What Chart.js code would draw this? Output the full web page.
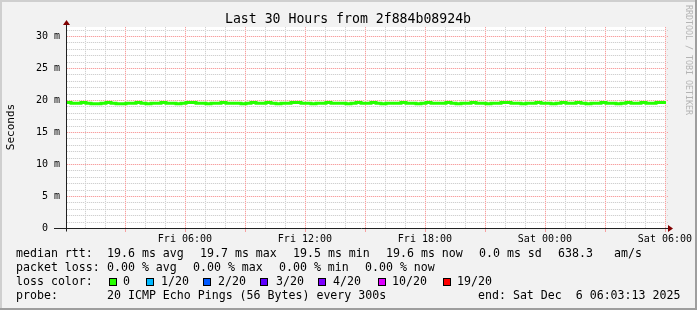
<!DOCTYPE html>
<html><head><meta charset="utf-8">
<script src="https://cdn.jsdelivr.net/npm/chart.js@4.4.1/dist/chart.umd.min.js"></script>
<style>html,body{margin:0;padding:0;background:#f2f2f2;}canvas{display:block;}</style>
</head><body>
<canvas id="c" width="697" height="310"></canvas>
<script>
// ---- data ----
const titleText = "Last 30 Hours from 2f884b08924b";
const yAxisTitle = "Seconds";
const watermark = "RRDTOOL / TOBI OETIKER";
const startHour = 3/60 + 13/3600;   // Fri 00:03:13, hours since Fri 00:00
const stepHours = 0.25;              // one median every 15 minutes
const rttMedianMs = [
19.6,19.5,19.5,19.6,19.5,19.4,19.4,19.5,19.6,19.5,
19.4,19.4,19.5,19.5,19.6,19.5,19.4,19.5,19.5,19.6,
19.5,19.5,19.4,19.5,19.6,19.6,19.5,19.5,19.4,19.5,
19.5,19.6,19.5,19.5,19.5,19.4,19.5,19.6,19.5,19.5,
19.6,19.5,19.4,19.5,19.5,19.6,19.6,19.5,19.5,19.4,
19.5,19.5,19.6,19.5,19.5,19.5,19.4,19.5,19.6,19.5,
19.5,19.6,19.5,19.4,19.5,19.5,19.5,19.6,19.5,19.5,
19.4,19.5,19.6,19.5,19.5,19.5,19.6,19.5,19.4,19.5,
19.5,19.6,19.5,19.5,19.4,19.5,19.5,19.6,19.6,19.5,
19.5,19.4,19.5,19.5,19.6,19.5,19.5,19.4,19.5,19.6,
19.5,19.5,19.6,19.5,19.4,19.5,19.5,19.6,19.5,19.5,
19.4,19.5,19.6,19.5,19.5,19.6,19.5,19.5,19.6,19.6,19.6
];
const xTickHours = [1,2,3,4,5,6,7,8,9,10,11,12,13,14,15,16,17,18,19,20,21,22,23,24,25,26,27,28,29,30];
const xLabelHours = [6,12,18,24,30];
const xLabels = ["Fri 06:00","Fri 12:00","Fri 18:00","Sat 00:00","Sat 06:00"];
const yMajorValues = [0,5,10,15,20,25,30];
const yLabels = ["0  ","5 m","10 m","15 m","20 m","25 m","30 m"];
const yMax = 31.4;
const rttStats = ["median rtt:","19.6 ms avg","19.7 ms max","19.5 ms min","19.6 ms now","0.0 ms sd","638.3","am/s"];
const lossStats = ["packet loss:","0.00 % avg","0.00 % max","0.00 % min","0.00 % now"];
const lossLabels = ["0","1/20","2/20","3/20","4/20","10/20","19/20"];
const lossColors = ["#26ff00","#00b8ff","#0059ff","#5e00ff","#7e00ff","#dd00ff","#ff0000"];
const probeLine = ["probe:","20 ICMP Echo Pings (56 Bytes) every 300s","end: Sat Dec  6 06:03:13 2025"];

// ---- layout / style ----
const MONO = '"DejaVu Sans Mono", monospace';
const GRID_ON = '#d0d0d0', GRID_OFF = '#f4f4f4';
const MGRID_ON = '#f7a0a0', MGRID_OFF = '#fde4e4';
const points = rttMedianMs.map((v,i)=>({x:startHour+i*stepHours, y:v}));
const isMajorYVal = (v)=> yMajorValues.indexOf(Math.round(v)) >= 0;
const isMajorXVal = (v)=> Math.round(v) % 3 === 0;

const deco = {
  id:'deco',
  beforeDraw(chart){
    const c = chart.ctx, W = chart.width, H = chart.height;
    c.save();
    c.fillStyle = '#f2f2f2'; c.fillRect(0,0,W,H);
    c.fillStyle = '#ffffff';
    const a = chart.chartArea;
    c.fillRect(a.left, a.top, a.right-a.left, a.bottom-a.top);
    c.fillStyle = '#cfcfcf'; c.fillRect(0,0,W,2); c.fillRect(0,0,2,H);
    c.fillStyle = '#9e9e9e'; c.fillRect(0,H-2,W,2); c.fillRect(W-2,0,2,H);
    c.restore();
  },
  beforeDatasetsDraw(chart){
    const c = chart.ctx, a = chart.chartArea, xs = chart.scales.x, ys = chart.scales.y;
    const top = Math.round(a.top), bot = Math.round(a.bottom), left = Math.round(a.left), right = Math.round(a.right);
    c.save();
    const vline = (px, on, off, tick) => {
      c.fillStyle = off; c.fillRect(px, top, 1, bot-top);
      c.fillStyle = on;
      for (let y = top; y < bot; y += 2) c.fillRect(px, y, 1, 1);
      if (tick) c.fillRect(px, bot+1, 1, 3);
    };
    const hline = (py, on, off) => {
      c.fillStyle = off; c.fillRect(left+1, py, right+2-left-1, 1);
      c.fillStyle = on;
      for (let x = left + 1; x < right + 2; x += 2) c.fillRect(x, py, 1, 1);
    };
    ys.ticks.forEach(t => { if (!isMajorYVal(t.value)) hline(Math.round(ys.getPixelForValue(t.value)), GRID_ON, GRID_OFF); });
    xs.ticks.forEach(t => { if (!isMajorXVal(t.value)) vline(Math.round(xs.getPixelForValue(t.value)), GRID_ON, GRID_OFF, false); });
    ys.ticks.forEach(t => { if (isMajorYVal(t.value) && Math.round(t.value) > 0) hline(Math.round(ys.getPixelForValue(t.value)), MGRID_ON, MGRID_OFF); });
    xs.ticks.forEach(t => { if (isMajorXVal(t.value)) vline(Math.round(xs.getPixelForValue(t.value)), MGRID_ON, MGRID_OFF, true); });
    c.restore();
  },
  afterDraw(chart){
    const c = chart.ctx, a = chart.chartArea;
    const x0 = Math.round(a.left)+0.5, y0 = Math.round(chart.scales.y.getPixelForValue(0))+0.5;
    c.save();
    c.strokeStyle = '#212121'; c.lineWidth = 1; c.setLineDash([]);
    c.beginPath(); c.moveTo(54, y0); c.lineTo(a.right+3, y0); c.stroke();
    c.beginPath(); c.moveTo(x0, y0+3); c.lineTo(x0, a.top-4); c.stroke();
    c.fillStyle = '#800000';
    c.beginPath(); c.moveTo(a.right+2, y0-3.5); c.lineTo(a.right+7, y0); c.lineTo(a.right+2, y0+3.5); c.closePath(); c.fill();
    c.beginPath(); c.moveTo(x0-3.5, a.top-2); c.lineTo(x0, a.top-7); c.lineTo(x0+3.5, a.top-2); c.closePath(); c.fill();
    c.fillStyle = '#000'; c.textBaseline = 'middle';
    c.font = '13.2px ' + MONO; c.textAlign = 'center';
    c.fillText(titleText, 348, 19.5);
    c.save(); c.translate(11, 127); c.rotate(-Math.PI/2);
    c.font = '11px ' + MONO; c.fillText(yAxisTitle, 0, 0); c.restore();
    c.save(); c.translate(688, 5); c.rotate(Math.PI/2);
    c.font = '8.3px ' + MONO; c.fillStyle = '#b4b4b4'; c.textAlign = 'left';
    c.fillText(watermark, 0, 0); c.restore();
    c.font = '11.6px ' + MONO; c.textAlign = 'left'; c.fillStyle = '#000';
    const r1 = [16,107,200,293,386,479,558,614];
    rttStats.forEach((t,i)=>c.fillText(t, r1[i], 254.3));
    const r2 = [16,107,193,279,365];
    lossStats.forEach((t,i)=>c.fillText(t, r2[i], 268.1));
    c.fillText("loss color:", 16, 281.9);
    const bx = [109,146,203,260,318,378,443];
    const tx = [123,161,218,276,333,392,457];
    lossLabels.forEach((t,i)=>{
      c.fillStyle = lossColors[i]; c.fillRect(bx[i], 278, 8, 8);
      c.strokeStyle = '#000'; c.lineWidth = 1; c.strokeRect(bx[i]+0.5, 278.5, 7, 7);
      c.fillStyle = '#000'; c.fillText(t, tx[i], 281.9);
    });
    const r4 = [16,107,478];
    probeLine.forEach((t,i)=>c.fillText(t, r4[i], 295.7));
    c.restore();
  }
};

const hiddenGrid = { display:true, drawOnChartArea:false, drawTicks:true, tickLength:3,
                     color:'rgba(0,0,0,0)', tickColor:'rgba(0,0,0,0)' };

new Chart(document.getElementById('c'), {
  type:'line',
  data:{ datasets:[{
    label:'median rtt', data:points, borderColor:'#26ff00', backgroundColor:'#26ff00',
    borderWidth:3, pointRadius:0, stepped:true, fill:false, tension:0
  }]},
  options:{
    responsive:false, animation:false, devicePixelRatio:1,
    layout:{ padding:{ left:0, top:27, right:31, bottom:0 } },
    plugins:{ legend:{display:false}, title:{display:false}, tooltip:{enabled:false} },
    scales:{
      x:{
        type:'linear', min:startHour, max:startHour+30,
        afterBuildTicks(s){ s.ticks = xTickHours.map(v=>({value:v})); },
        afterFit(s){ s.height = 82; s.paddingLeft = 0; s.paddingRight = 0; },
        grid: hiddenGrid,
        border:{ display:false },
        ticks:{
          autoSkip:false, maxRotation:0, minRotation:0, padding:2,
          color:'#000', font:{ family:MONO, size:10 },
          callback:(v)=>{ const k = xLabelHours.indexOf(v); return k>=0 ? xLabels[k] : ''; }
        }
      },
      y:{
        type:'linear', min:0, max:yMax,
        ticks:{
          stepSize:1, includeBounds:false, autoSkip:false, padding:6,
          color:'#000', font:{ family:MONO, size:10 },
          callback:(v)=>{ const k = yMajorValues.indexOf(Math.round(v)); return (k>=0 && Math.abs(v-Math.round(v))<1e-6) ? yLabels[k] : ''; }
        },
        afterFit(s){ s.width = 66; s.paddingTop = 0; s.paddingBottom = 0; },
        grid: Object.assign({}, hiddenGrid, { drawTicks:false }),
        border:{ display:false }
      }
    }
  },
  plugins:[deco]
});
</script>
</body></html>
